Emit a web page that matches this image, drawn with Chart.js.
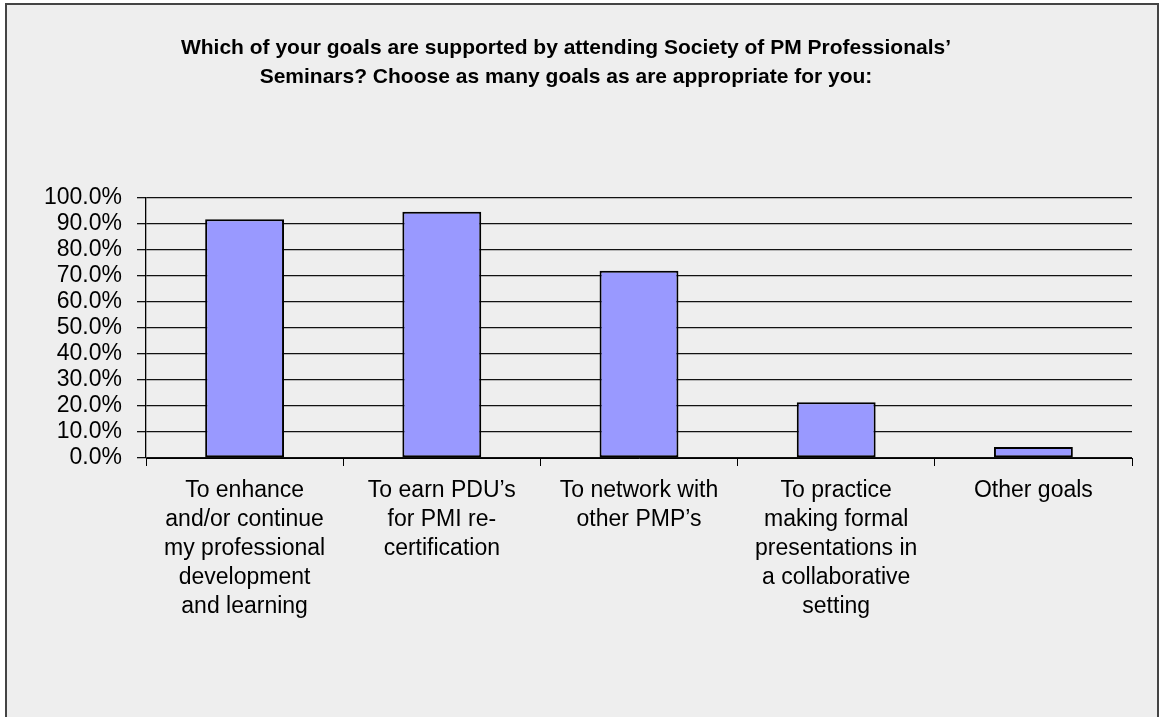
<!DOCTYPE html>
<html>
<head>
<meta charset="utf-8">
<script src="https://cdn.jsdelivr.net/npm/chart.js@4.4.0/dist/chart.umd.min.js"></script>
<style>
  body { margin: 0; background: #fff; }
  canvas { display: block; }
</style>
</head>
<body>
<canvas id="myChart" width="1161" height="717"></canvas>
<script>
const titleLines = [
  "Which of your goals are supported by attending Society of PM Professionals\u2019",
  "Seminars? Choose as many goals as are appropriate for you:"
];
const goals = [
  ["To enhance", "and/or continue", "my professional", "development", "and learning"],
  ["To earn PDU\u2019s", "for PMI re-", "certification"],
  ["To network with", "other PMP\u2019s"],
  ["To practice", "making formal", "presentations in", "a collaborative", "setting"],
  ["Other goals"]
];
const percents = [91.8, 94.7, 72.0, 21.4, 4.2];

// grey panel with a frame, like the spreadsheet chart area
const framePlugin = {
  id: 'frame',
  beforeDraw(chart) {
    const ctx = chart.ctx;
    ctx.save();
    ctx.fillStyle = '#ffffff';
    ctx.fillRect(0, 0, chart.width, chart.height);
    ctx.fillStyle = '#eeeeee';
    ctx.fillRect(7, 5, 1151, chart.height);
    ctx.strokeStyle = '#444444';
    ctx.lineWidth = 2;
    ctx.beginPath();
    ctx.moveTo(6, chart.height);
    ctx.lineTo(6, 4);
    ctx.lineTo(1158, 4);
    ctx.lineTo(1158, chart.height);
    ctx.stroke();
    ctx.restore();
  }
};

const myChart = new Chart(document.getElementById('myChart'), {
  type: 'bar',
  data: {
    labels: goals,
    datasets: [{
      data: percents,
      backgroundColor: '#9999ff',
      borderColor: '#000000',
      borderWidth: 2,
      borderSkipped: false,
      barPercentage: 0.4,
      categoryPercentage: 1
    }]
  },
  options: {
    responsive: false,
    animation: false,
    layout: { padding: { left: 0, right: 29, top: 0, bottom: 0 } },
    plugins: {
      legend: { display: false },
      tooltip: { enabled: false },
      title: {
        display: true,
        text: titleLines,
        color: '#000000',
        font: { family: 'Liberation Sans', size: 21, weight: 'bold', lineHeight: '29px' },
        padding: { top: 34, bottom: 106 }
      }
    },
    scales: {
      x: {
        grid: {
          display: true,
          drawOnChartArea: false,
          offset: true,
          tickLength: 8,
          color: '#000000',
          lineWidth: 1
        },
        border: { display: true, color: '#000000', width: 1 },
        ticks: {
          color: '#000000',
          maxRotation: 0,
          autoSkip: false,
          padding: 10,
          font: { family: 'Liberation Sans', size: 23, lineHeight: '29px' }
        },
        afterFit(scale) { scale.height = 259; }
      },
      y: {
        min: 0,
        max: 100,
        grid: { color: '#111111', lineWidth: 1.3, tickLength: 9 },
        border: { display: true, color: '#000000', width: 1.3 },
        ticks: {
          stepSize: 10,
          autoSkip: false,
          color: '#000000',
          padding: 15,
          font: { family: 'Liberation Sans', size: 23 },
          callback: v => v.toFixed(1) + '%'
        },
        afterFit(scale) { scale.width = 146; }
      }
    }
  },
  plugins: [framePlugin]
});
</script>
</body>
</html>
